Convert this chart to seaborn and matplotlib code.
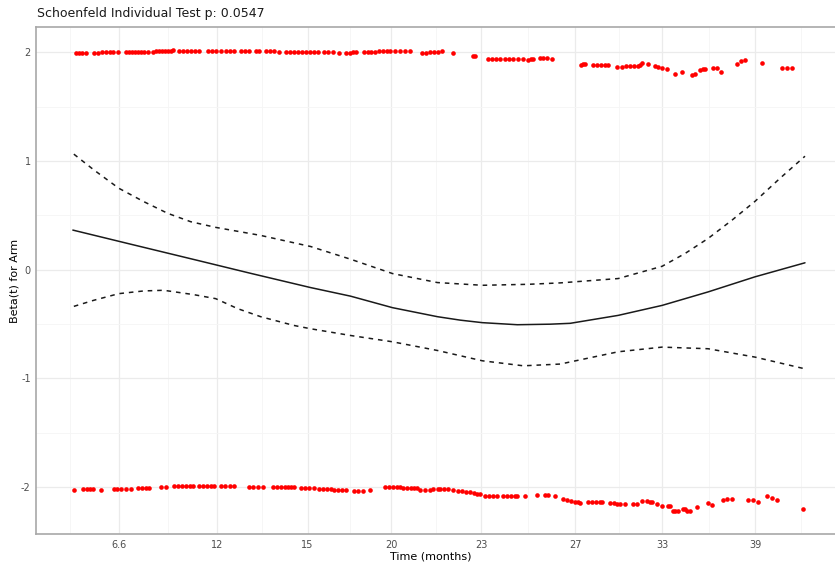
import matplotlib
matplotlib.use("Agg")
import matplotlib.pyplot as plt
import numpy as np
import pandas as pd
import seaborn as sns

# transformed time scale (km-transformed), tick labels in months
tick_pos = [7.8, 17.6, 26.7, 35.1, 44.1, 53.5, 62.2, 71.5]
tick_labels = ["6.6", "12", "15", "20", "23", "27", "33", "39"]

# scaled Schoenfeld residuals, Arm = 1 (upper band)
resid_hi_t = [
    3.5, 3.8, 4.1, 4.5, 5.3, 5.7, 6.1, 6.5, 6.9, 7.2, 7.7,
    8.5, 8.8, 9.1, 9.4, 9.7, 10.0, 10.3, 10.7,
    11.2, 11.5, 11.8, 12.1, 12.4, 12.7, 13.0, 13.2,
    13.8, 14.2, 14.6, 15.0, 15.4, 15.8, 16.7, 17.1, 17.5, 18.0,
    18.5, 18.9, 19.3, 20.0, 20.4, 20.8, 21.5, 21.8, 22.5, 22.9, 23.3, 23.8,
    24.5, 24.9, 25.3, 25.7, 26.1, 26.5, 26.9, 27.3, 27.7, 28.3, 28.7, 29.2, 29.8,
    30.5, 30.9, 31.2, 31.5, 32.3, 32.7, 33.1, 33.5, 33.9, 34.3, 34.7, 35.0,
    35.5, 36.0, 36.5, 37.0, 38.2, 38.6, 39.0, 39.4, 39.8, 40.2, 41.3,
    43.3, 43.5, 44.8, 45.2, 45.6, 46.0, 46.5, 46.9, 47.3, 47.8, 48.3,
    48.8, 49.1, 49.3, 50.0, 50.3, 50.7, 51.2,
    54.1, 54.3, 54.5, 55.3, 55.7, 56.1, 56.5, 56.8, 57.7,
    58.2, 58.6, 59.0, 59.4, 59.8, 60.0, 60.2, 60.8, 61.5,
    61.8, 62.2, 62.7, 63.5, 64.2, 65.2, 65.5, 66.0, 66.3, 66.5,
    67.3, 67.7, 68.1, 69.7, 70.1, 70.5, 72.2, 74.2, 74.7, 75.2,
]
resid_hi = [
    1.995, 1.995, 1.996, 1.997, 1.995, 1.997, 2.000, 2.002, 2.004, 2.005, 2.000,
    2.004, 2.005, 2.005, 2.005, 2.006, 2.006, 2.006, 2.006,
    2.006, 2.008, 2.009, 2.011, 2.012, 2.013, 2.014, 2.016,
    2.009, 2.009, 2.010, 2.010, 2.010, 2.011, 2.013, 2.013, 2.014, 2.013,
    2.011, 2.011, 2.012, 2.009, 2.010, 2.010, 2.009, 2.009, 2.009, 2.010, 2.009, 2.005,
    2.005, 2.005, 2.004, 2.003, 2.003, 2.002, 2.001, 2.000, 2.000, 2.000, 2.000, 1.999, 1.991,
    1.995, 1.997, 1.999, 2.000, 2.000, 2.002, 2.004, 2.006, 2.008, 2.010, 2.012, 2.014,
    2.009, 2.009, 2.009, 2.009, 1.995, 1.997, 2.000, 2.002, 2.004, 2.009, 1.991,
    1.963, 1.965, 1.938, 1.938, 1.938, 1.938, 1.935, 1.935, 1.935, 1.935, 1.935,
    1.931, 1.935, 1.940, 1.949, 1.951, 1.951, 1.940,
    1.883, 1.889, 1.894, 1.880, 1.880, 1.880, 1.880, 1.880, 1.864,
    1.868, 1.871, 1.871, 1.875, 1.875, 1.880, 1.898, 1.892, 1.877,
    1.861, 1.852, 1.843, 1.800, 1.822, 1.788, 1.797, 1.838, 1.843, 1.848,
    1.852, 1.852, 1.815, 1.892, 1.922, 1.929, 1.901, 1.859, 1.859, 1.859,
]

# scaled Schoenfeld residuals, Arm = 0 (lower band)
resid_lo_t = [
    3.3, 4.2, 4.6, 4.9, 5.2, 6.0, 7.3, 7.6, 8.0, 8.5, 9.0,
    9.7, 10.1, 10.5, 10.8, 12.0, 12.5,
    13.3, 13.7, 14.1, 14.5, 14.9, 15.2, 15.8, 16.2, 16.6, 17.0, 17.3,
    18.0, 18.4, 18.9, 19.3, 20.8, 21.2, 21.7, 22.2,
    23.2, 23.6, 24.0, 24.4, 24.7, 25.0, 25.3, 26.0, 26.4, 26.8, 27.3,
    27.8, 28.2, 28.6, 29.0, 29.3, 29.7, 30.1, 30.5, 31.3, 31.7, 32.2, 33.0,
    34.5, 34.9, 35.3, 35.7, 36.0, 36.3, 36.7, 37.1, 37.4, 37.7,
    38.0, 38.5, 39.0, 39.3, 39.8, 40.0, 40.4, 40.8, 41.3,
    41.8, 42.2, 42.6, 43.0, 43.4, 43.7, 44.0, 44.5, 44.9, 45.3, 45.7,
    46.3, 46.7, 47.1, 47.5, 47.7, 48.5, 49.7, 50.5, 50.8, 51.5,
    52.3, 52.7, 53.1, 53.5, 53.8, 54.0, 54.8, 55.2, 55.6, 56.0, 56.2,
    57.0, 57.4, 57.7, 58.0, 58.5, 59.3, 59.7, 60.2, 60.7, 61.0, 61.2, 61.7,
    62.2, 62.8, 63.0, 63.3, 63.5, 63.8, 64.3, 64.5, 64.7, 65.0, 65.7,
    66.8, 67.2, 68.3, 68.7, 69.2, 70.8, 71.3, 71.8, 72.7, 73.2, 73.7, 76.3,
]
resid_lo = [
    -2.025, -2.018, -2.018, -2.018, -2.018, -2.025, -2.018, -2.018, -2.018, -2.016, -2.016,
    -2.009, -2.009, -2.009, -2.009, -2.004, -2.004,
    -1.994, -1.994, -1.994, -1.994, -1.994, -1.994, -1.994, -1.994, -1.994, -1.994, -1.994,
    -1.994, -1.994, -1.994, -1.994, -2.000, -2.000, -2.000, -2.000,
    -2.006, -2.006, -2.006, -2.006, -2.006, -2.006, -2.006, -2.013, -2.013, -2.013, -2.013,
    -2.018, -2.018, -2.018, -2.018, -2.031, -2.031, -2.031, -2.031, -2.034, -2.034, -2.034, -2.031,
    -2.004, -2.004, -2.004, -2.004, -2.004, -2.013, -2.013, -2.013, -2.013, -2.013,
    -2.028, -2.028, -2.028, -2.018, -2.018, -2.018, -2.016, -2.020, -2.030,
    -2.034, -2.039, -2.043, -2.048, -2.053, -2.062, -2.065, -2.080, -2.080, -2.080, -2.080,
    -2.087, -2.087, -2.087, -2.087, -2.087, -2.087, -2.074, -2.071, -2.071, -2.087,
    -2.108, -2.117, -2.127, -2.136, -2.140, -2.145, -2.140, -2.140, -2.140, -2.140, -2.140,
    -2.148, -2.150, -2.154, -2.154, -2.157, -2.154, -2.154, -2.133, -2.133, -2.136, -2.139, -2.154,
    -2.179, -2.179, -2.179, -2.219, -2.219, -2.219, -2.203, -2.203, -2.222, -2.222, -2.185,
    -2.148, -2.166, -2.124, -2.111, -2.111, -2.124, -2.124, -2.139, -2.087, -2.102, -2.124, -2.200,
]

# smoothed beta(t) with +/- 2 se band
fit_t = [3.2, 9.0, 15.6, 21.0, 27.0, 31.0, 35.2, 39.7, 42.0, 44.2, 47.7, 51.0, 53.0,
         57.8, 62.2, 66.8, 71.5, 76.5]
fit_beta = [0.363, 0.233, 0.086, -0.035, -0.166, -0.245, -0.351, -0.434, -0.466, -0.489,
            -0.508, -0.503, -0.495, -0.422, -0.330, -0.206, -0.067, 0.062]

upper_t = [3.3, 5.3, 7.8, 10.3, 12.7, 15.0, 17.5, 22.0, 27.0, 31.0, 35.2, 39.7,
           44.2, 48.8, 52.0, 57.8, 62.2, 64.5, 66.8, 69.2, 71.5, 74.0, 76.5]
upper_beta = [1.062, 0.917, 0.748, 0.625, 0.517, 0.440, 0.388, 0.314, 0.212, 0.095,
              -0.037, -0.120, -0.145, -0.136, -0.123, -0.083, 0.030, 0.148, 0.286,
              0.455, 0.628, 0.840, 1.043]

lower_t = [3.3, 5.3, 7.8, 10.3, 12.3, 15.3, 17.5, 19.7, 22.0, 25.3, 27.0, 31.0,
           35.2, 39.7, 44.2, 48.3, 52.0, 57.8, 62.2, 66.8, 71.5, 76.5]
lower_beta = [-0.339, -0.283, -0.222, -0.197, -0.191, -0.231, -0.268, -0.360, -0.434,
              -0.514, -0.545, -0.607, -0.665, -0.745, -0.840, -0.886, -0.870, -0.757,
              -0.714, -0.729, -0.806, -0.914]


def main():
    sns.set_theme(style="whitegrid")
    plt.rcParams["font.family"] = ["DejaVu Sans"]
    plt.rcParams["axes.unicode_minus"] = False

    fig = plt.figure(figsize=(8.35, 5.65), dpi=100)
    ax = fig.add_axes([0.0434, 0.0549, 0.9645, 0.8965])

    pts = pd.DataFrame({
        "time": resid_hi_t + resid_lo_t,
        "resid": resid_hi + resid_lo,
    })
    sns.scatterplot(data=pts, x="time", y="resid", ax=ax, color="#ff0000",
                    s=11, linewidth=0, zorder=3)

    sns.lineplot(x=fit_t, y=fit_beta, ax=ax, color="#1a1a1a", linewidth=1.1,
                 sort=False, estimator=None, zorder=4)
    for t, b in [(upper_t, upper_beta), (lower_t, lower_beta)]:
        sns.lineplot(x=t, y=b, ax=ax, color="#1a1a1a", linewidth=1.1,
                     sort=False, estimator=None, zorder=4, dashes=False,
                     linestyle=(0, (3, 3.2)))

    ax.margins(x=0.05, y=0.05)

    # ── axes / grid, ggplot theme_bw look ─┐
    ax.set_facecolor("white")
    ax.set_xticks(tick_pos)
    ax.set_xticklabels(tick_labels)
    steps = np.diff(tick_pos)
    minor_x = np.concatenate([[tick_pos[0] - steps[0] / 2],
                              np.array(tick_pos[:-1]) + steps / 2,
                              [tick_pos[-1] + steps[-1] / 2]])
    ax.set_xticks(minor_x, minor=True)
    ax.set_yticks([-2, -1, 0, 1, 2])
    ax.set_yticklabels(["-2", "-1", "0", "1", "2"])
    ax.set_yticks([-1.5, -0.5, 0.5, 1.5], minor=True)

    ax.grid(True, which="major", color="#ebebeb", linewidth=0.9)
    ax.grid(True, which="minor", color="#f5f5f5", linewidth=0.6)
    ax.tick_params(which="major", length=2.5, width=0.8, color="#555555",
                   labelsize=7, labelcolor="#4d4d4d", pad=1.5)
    ax.tick_params(which="minor", length=0)
    for sp in ax.spines.values():
        sp.set_visible(True)
        sp.set_color("#a8a8a8")
        sp.set_linewidth(1.2)

    ax.set_xlabel("Time (months)", fontsize=8, color="black")
    ax.set_ylabel("Beta(t) for Arm", fontsize=8, color="black")
    ax.xaxis.set_label_coords(0.49, -0.034)
    ax.yaxis.set_label_coords(-0.021, 0.5)

    fig.text(37 / 835, 1 - 14 / 565, "Schoenfeld Individual Test p: 0.0547",
             fontsize=9, color="#1a1a1a", ha="left", va="center")

    fig.savefig("out.png", dpi=100)


if __name__ == "__main__":
    main()
